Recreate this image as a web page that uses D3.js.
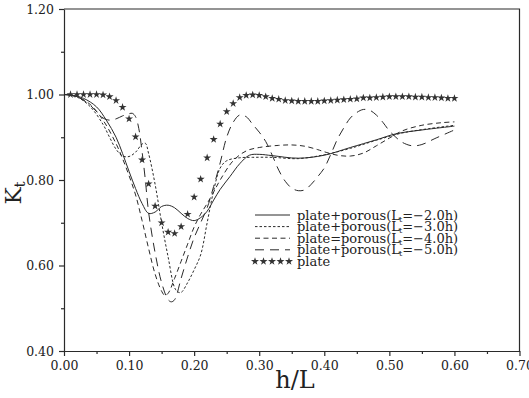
<!DOCTYPE html>
<meta charset="utf-8">
<script src="https://d3js.org/d3.v7.min.js"></script>
<style>
  body { margin: 0; background: #fff; }
  text { font-family: "DejaVu Serif", serif; fill: #222; }
</style>
<svg id="chart" width="529" height="398"></svg>
<script>
// Lt = -2.0h (solid)
const hl2 = [0, 0.01, 0.03, 0.05, 0.065, 0.08, 0.09, 0.10, 0.11, 0.12, 0.13, 0.14, 0.15, 0.16, 0.17, 0.18, 0.19, 0.20, 0.21, 0.22, 0.23, 0.24, 0.255, 0.27, 0.285, 0.30, 0.32, 0.36, 0.40, 0.44, 0.48, 0.51, 0.55, 0.60];
const kt2 = [1.000, 0.999, 0.991, 0.971, 0.940, 0.900, 0.862, 0.820, 0.780, 0.745, 0.722, 0.725, 0.738, 0.741, 0.735, 0.722, 0.710, 0.705, 0.712, 0.727, 0.753, 0.778, 0.808, 0.838, 0.858, 0.860, 0.857, 0.851, 0.858, 0.876, 0.894, 0.908, 0.917, 0.926];

// Lt = -3.0h (fine dash)
const hl3 = [0, 0.02, 0.04, 0.06, 0.07, 0.08, 0.09, 0.10, 0.11, 0.12, 0.125, 0.13, 0.14, 0.15, 0.16, 0.17, 0.175, 0.18, 0.19, 0.20, 0.21, 0.22, 0.23, 0.24, 0.25, 0.27, 0.29, 0.32, 0.36, 0.40, 0.44, 0.48, 0.52, 0.56, 0.60];
const kt3 = [1.000, 0.994, 0.972, 0.930, 0.900, 0.872, 0.856, 0.855, 0.865, 0.884, 0.886, 0.862, 0.790, 0.700, 0.620, 0.548, 0.538, 0.537, 0.560, 0.590, 0.625, 0.700, 0.775, 0.828, 0.845, 0.852, 0.853, 0.853, 0.850, 0.859, 0.874, 0.893, 0.910, 0.920, 0.928];

// Lt = -4.0h (medium dash)
const hl4 = [0, 0.02, 0.04, 0.06, 0.08, 0.09, 0.10, 0.11, 0.12, 0.13, 0.14, 0.15, 0.155, 0.16, 0.17, 0.18, 0.19, 0.20, 0.21, 0.22, 0.23, 0.24, 0.26, 0.28, 0.30, 0.33, 0.35, 0.37, 0.39, 0.40, 0.42, 0.44, 0.46, 0.48, 0.50, 0.52, 0.55, 0.58, 0.60];
const kt4 = [1.000, 0.995, 0.977, 0.940, 0.885, 0.850, 0.810, 0.765, 0.705, 0.640, 0.580, 0.540, 0.530, 0.535, 0.570, 0.610, 0.650, 0.690, 0.720, 0.745, 0.772, 0.800, 0.845, 0.868, 0.876, 0.881, 0.882, 0.879, 0.871, 0.866, 0.858, 0.856, 0.863, 0.880, 0.898, 0.915, 0.928, 0.934, 0.936];

// Lt = -5.0h (long dash)
const hl5 = [0, 0.02, 0.04, 0.05, 0.06, 0.07, 0.08, 0.09, 0.10, 0.105, 0.11, 0.115, 0.12, 0.125, 0.13, 0.14, 0.15, 0.16, 0.165, 0.17, 0.18, 0.19, 0.20, 0.21, 0.22, 0.23, 0.24, 0.25, 0.26, 0.27, 0.28, 0.29, 0.30, 0.31, 0.32, 0.33, 0.34, 0.35, 0.36, 0.37, 0.38, 0.39, 0.40, 0.41, 0.42, 0.43, 0.44, 0.45, 0.46, 0.47, 0.48, 0.49, 0.50, 0.51, 0.52, 0.535, 0.55, 0.57, 0.60];
const kt5 = [1.000, 0.995, 0.975, 0.960, 0.945, 0.940, 0.943, 0.950, 0.955, 0.956, 0.948, 0.920, 0.866, 0.800, 0.725, 0.630, 0.560, 0.520, 0.515, 0.520, 0.570, 0.620, 0.665, 0.700, 0.735, 0.785, 0.840, 0.900, 0.935, 0.952, 0.948, 0.930, 0.912, 0.890, 0.858, 0.823, 0.797, 0.781, 0.775, 0.777, 0.790, 0.808, 0.828, 0.860, 0.895, 0.922, 0.945, 0.958, 0.965, 0.963, 0.952, 0.935, 0.915, 0.900, 0.888, 0.880, 0.883, 0.897, 0.917];

// plate only (stars)
const hlPlate = [0.01, 0.02, 0.03, 0.04, 0.05, 0.06, 0.07, 0.08, 0.09, 0.10, 0.11, 0.12, 0.13, 0.14, 0.15, 0.16, 0.17, 0.18, 0.19, 0.20, 0.21, 0.22, 0.23, 0.24, 0.25, 0.26, 0.27, 0.28, 0.29, 0.30, 0.31, 0.32, 0.33, 0.34, 0.35, 0.36, 0.37, 0.38, 0.39, 0.40, 0.41, 0.42, 0.43, 0.44, 0.45, 0.46, 0.47, 0.48, 0.49, 0.50, 0.51, 0.52, 0.53, 0.54, 0.55, 0.56, 0.57, 0.58, 0.59, 0.60];
const ktPlate = [1.000, 1.000, 1.000, 1.000, 1.000, 0.999, 0.995, 0.986, 0.970, 0.943, 0.901, 0.847, 0.791, 0.739, 0.700, 0.678, 0.675, 0.691, 0.720, 0.760, 0.802, 0.852, 0.895, 0.931, 0.960, 0.979, 0.993, 0.998, 0.999, 0.998, 0.995, 0.991, 0.989, 0.986, 0.985, 0.984, 0.984, 0.984, 0.984, 0.985, 0.986, 0.987, 0.988, 0.989, 0.990, 0.992, 0.992, 0.993, 0.994, 0.995, 0.995, 0.995, 0.995, 0.994, 0.994, 0.993, 0.993, 0.992, 0.991, 0.991];

const xTicks = [0, 0.1, 0.2, 0.3, 0.4, 0.5, 0.6, 0.7];
const yTicks = [0.4, 0.6, 0.8, 1.0, 1.2];
const legendNames = ["plate+porous(L", "plate+porous(L", "plate=porous(L", "plate+porous(L"];
const legendLt = ["=\u22122.0h)", "=\u22123.0h)", "=\u22124.0h)", "=\u22125.0h)"];

const svg = d3.select("#chart");
const ink = "#2a2a2a";

const x = d3.scaleLinear().domain([0, 0.7]).range([64, 519.5]);
const y = d3.scaleLinear().domain([0.4, 1.2]).range([351, 9]);

// frame (top + right)
svg.append("path")
  .attr("d", `M${x(0)},${y(1.2)}H${x(0.7)}V${y(0.4)}`)
  .attr("fill", "none").attr("stroke", ink).attr("stroke-width", 1.2);

// x axis
const xAxis = svg.append("g").attr("transform", `translate(0,${y(0.4)})`)
  .call(d3.axisBottom(x).tickValues(xTicks).tickFormat(d3.format(".2f")).tickSize(5).tickSizeOuter(0));
svg.append("g").attr("transform", `translate(0,${y(0.4)})`)
  .call(d3.axisBottom(x).tickValues(xTicks.slice(0, -1).map(d => d + 0.05)).tickFormat("").tickSize(3).tickSizeOuter(0))
  .select(".domain").remove();

// y axis
const yAxis = svg.append("g").attr("transform", `translate(${x(0)},0)`)
  .call(d3.axisLeft(y).tickValues(yTicks).tickFormat(d3.format(".2f")).tickSize(5).tickSizeOuter(0));
svg.append("g").attr("transform", `translate(${x(0)},0)`)
  .call(d3.axisLeft(y).tickValues(yTicks.slice(0, -1).map(d => d + 0.1)).tickFormat("").tickSize(3).tickSizeOuter(0))
  .select(".domain").remove();

svg.selectAll(".domain, .tick line").attr("stroke", ink).attr("stroke-width", 1.2);
xAxis.selectAll("text").attr("font-size", 12.5).attr("font-family", "DejaVu Serif").attr("fill", "#222").attr("dy", "0.9em");
yAxis.selectAll("text").attr("font-size", 12.5).attr("font-family", "DejaVu Serif").attr("fill", "#222").attr("dx", "-2");

// axis titles
svg.append("text").attr("x", 295).attr("y", 388).attr("text-anchor", "middle")
  .attr("font-size", 24).text("h/L");
const yt = svg.append("text").attr("transform", "translate(21,193) rotate(-90)")
  .attr("text-anchor", "middle").attr("font-size", 23);
yt.append("tspan").text("K");
yt.append("tspan").attr("font-size", 15).attr("dy", 4).text("t");

// curves
const line = d3.line().x(d => x(d[0])).y(d => y(d[1])).curve(d3.curveCatmullRom.alpha(0.5));
const series = [
  { hl: hl2, kt: kt2, dash: null },
  { hl: hl3, kt: kt3, dash: "2.5,2" },
  { hl: hl4, kt: kt4, dash: "5,3.5" },
  { hl: hl5, kt: kt5, dash: "9,6" }
];
series.forEach(s => {
  svg.append("path")
    .attr("d", line(s.hl.map((h, i) => [h, s.kt[i]])))
    .attr("fill", "none").attr("stroke", ink).attr("stroke-width", 1)
    .attr("stroke-dasharray", s.dash);
});

const star = d3.symbol().type(d3.symbolStar).size(20);
svg.append("g").selectAll("path")
  .data(hlPlate.map((h, i) => [h, ktPlate[i]]))
  .join("path")
  .attr("transform", d => `translate(${x(d[0])},${y(d[1])})`)
  .attr("d", star)
  .attr("fill", "#333");

// legend
const lgY = [215, 226.6, 238.2, 249.8, 261.4];
series.forEach((s, i) => {
  svg.append("line")
    .attr("x1", 255).attr("x2", 290).attr("y1", lgY[i]).attr("y2", lgY[i])
    .attr("stroke", ink).attr("stroke-width", 1).attr("stroke-dasharray", s.dash);
  const t = svg.append("text").attr("x", 297).attr("y", lgY[i] + 4.5).attr("font-size", 13);
  t.append("tspan").text(legendNames[i]);
  t.append("tspan").attr("font-size", 8).attr("dy", 2).attr("dx", -1).text("t");
  t.append("tspan").attr("dy", -2).text(legendLt[i]);
});
svg.append("g").selectAll("path")
  .data([0, 1, 2, 3, 4])
  .join("path")
  .attr("transform", d => `translate(${255 + d * 8.5},${lgY[4]})`)
  .attr("d", star).attr("fill", "#333");
svg.append("text").attr("x", 297).attr("y", lgY[4] + 4.5).attr("font-size", 13).text("plate");
</script>
